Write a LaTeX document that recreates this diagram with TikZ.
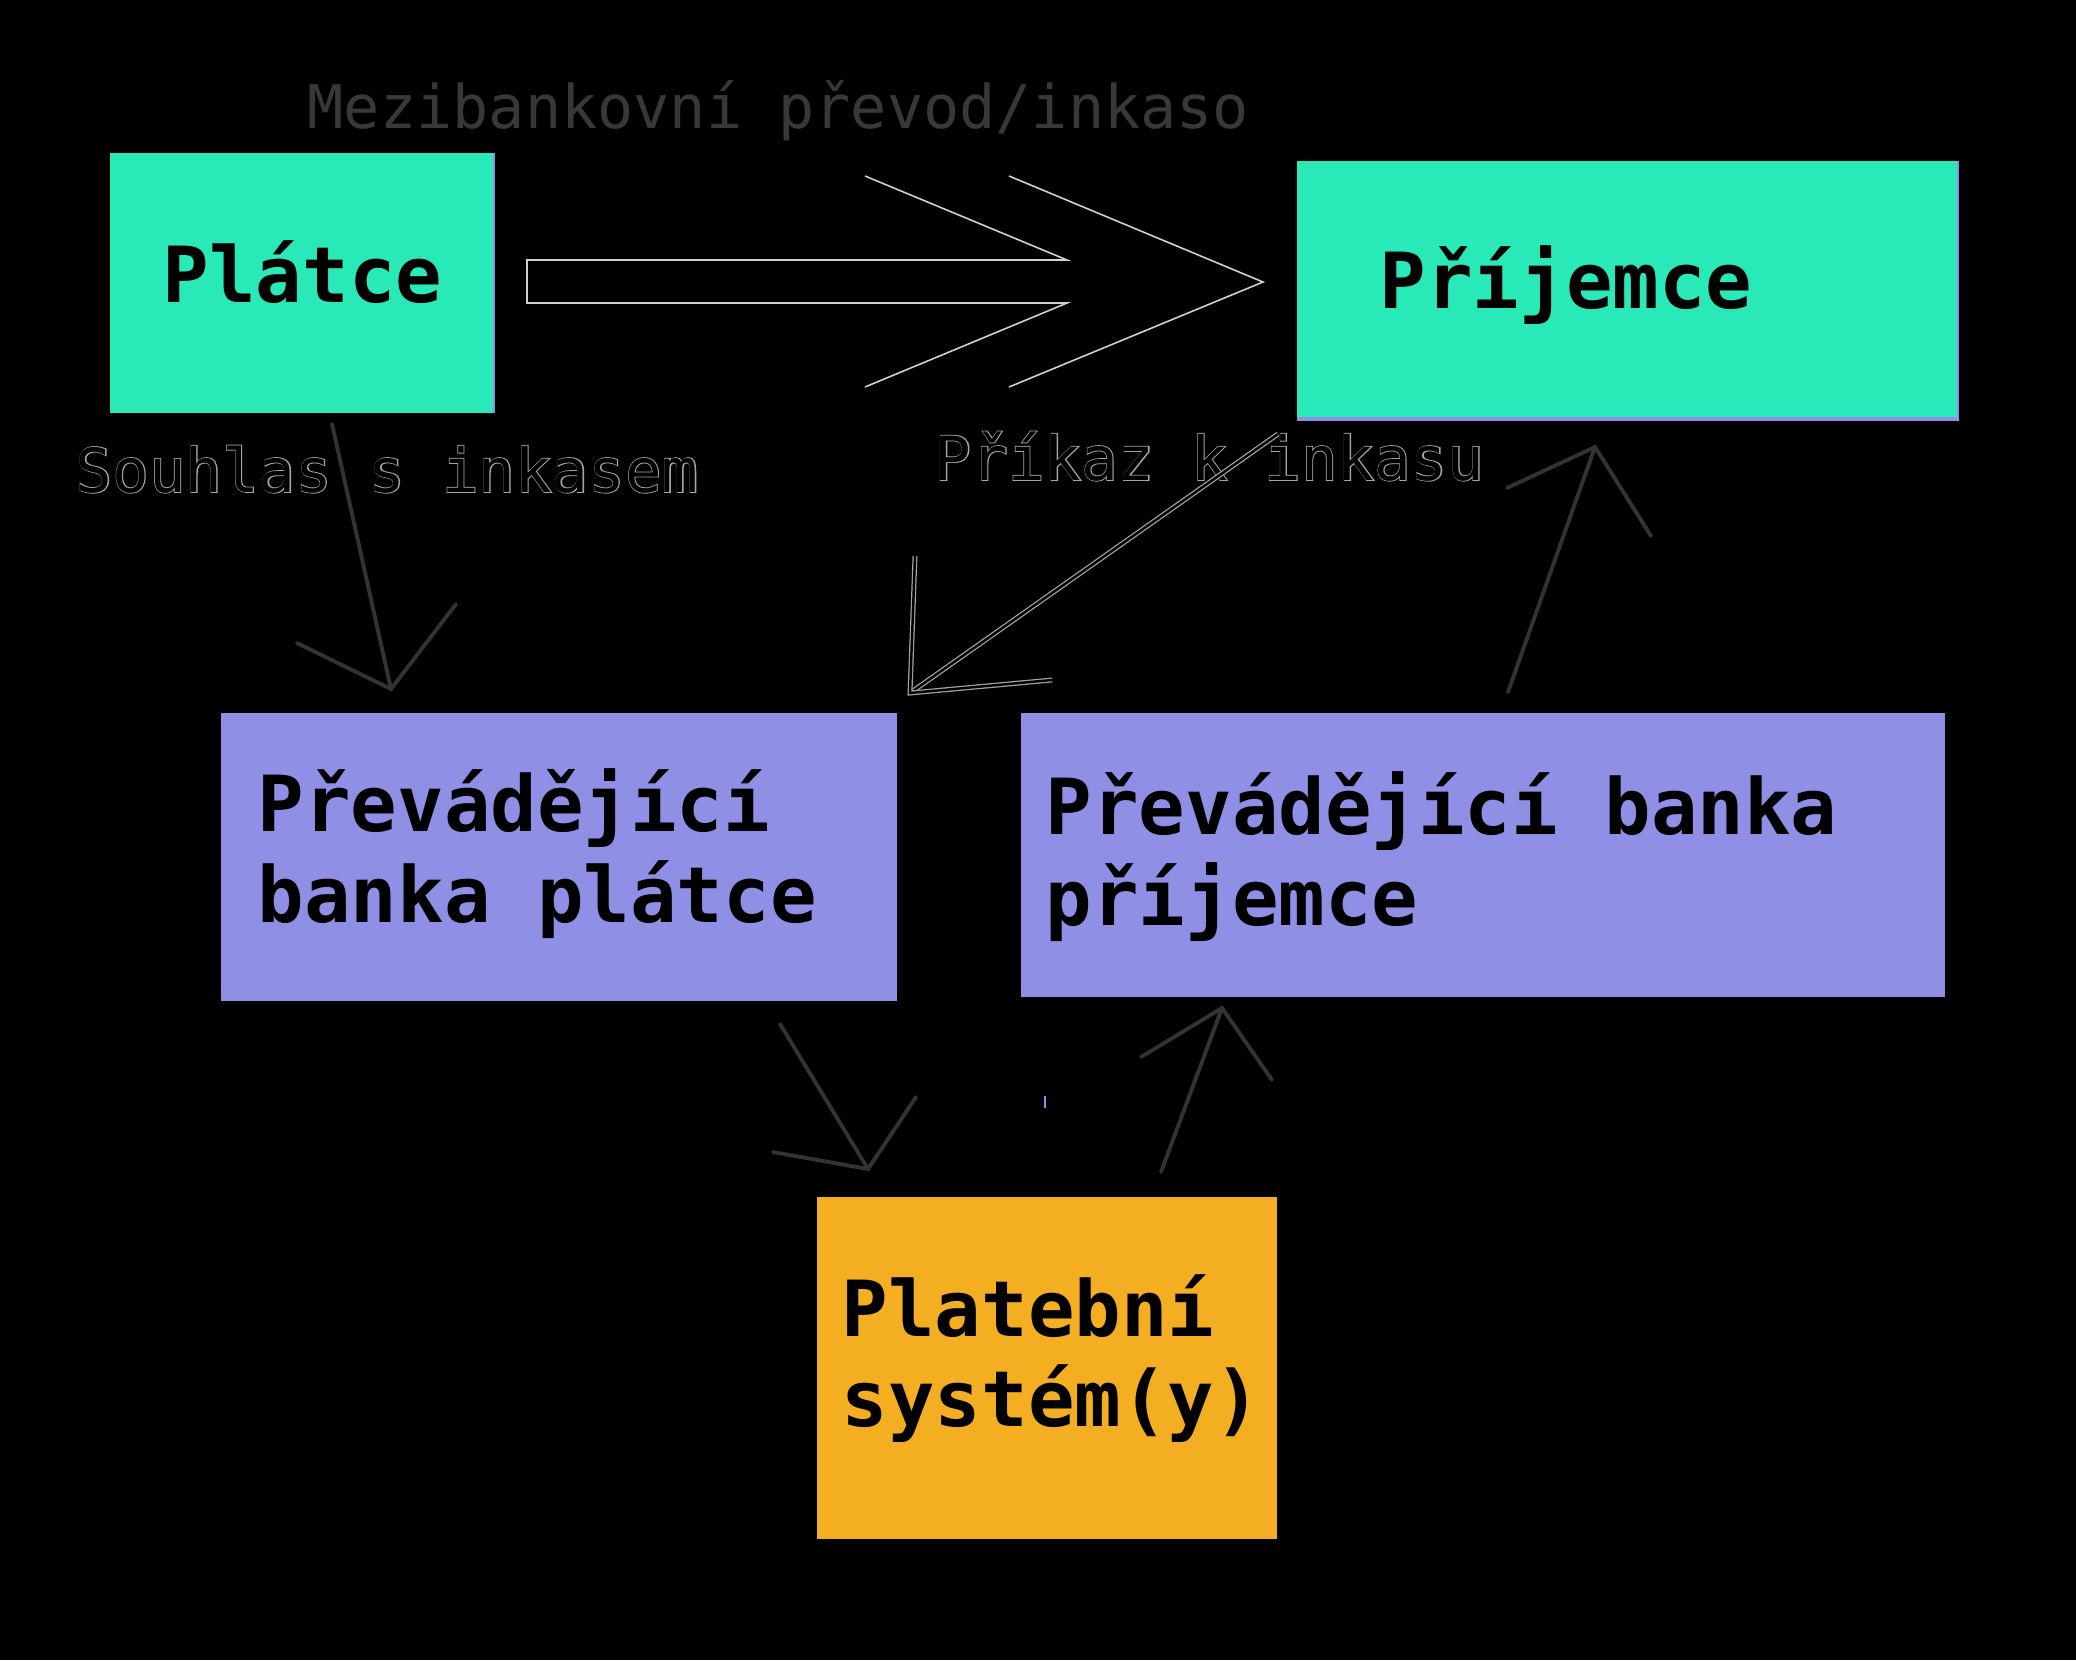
\documentclass[tikz,border=0pt]{standalone}
\usepackage{fontspec}
\setmonofont{DejaVu Sans Mono}
\newfontfamily\rimfont{DejaVu Sans Mono}[FakeBold=2.6]
\definecolor{mint}{RGB}{42,233,185}
\definecolor{lilac}{RGB}{142,143,229}
\definecolor{amber}{RGB}{243,174,34}
\definecolor{ink}{RGB}{51,51,51}
\definecolor{rim}{RGB}{165,165,165}
\newcommand\outl[1]{\rlap{\rimfont\color{rim}#1}{\color{black}#1}}
\tikzset{
  box/.style={inner sep=0pt,anchor=north west},
  boxtext/.style={inner sep=0pt,anchor=base west,align=left,
    font=\ttfamily\bfseries\fontsize{22pt}{25.6pt}\selectfont},
  lbl/.style={inner sep=0pt,anchor=base west,
    font=\ttfamily\fontsize{17.3pt}{20pt}\selectfont},
  flow/.style={ink,line width=1.1pt,line cap=round},
  hollow/.style={draw=rim,line width=.35pt,double=black,double distance=.7pt},
}
\begin{document}
\begin{tikzpicture}[x=.01cm,y=-.01cm,line width=.45pt]
  \fill[black] (0,0) rectangle (2076,1660);
  \useasboundingbox (0,0) rectangle (2076,1660);
  % boxes
  \node[box,fill=lilac,minimum width=3.85cm,minimum height=2.6cm] (platceedge) at (109,152) {};
  \node[box,fill=mint,minimum width=3.83cm,minimum height=2.6cm] (platce) at (109,152) {};
  \node[box,fill=lilac,minimum width=6.62cm,minimum height=2.6cm] (prijemceedge) at (1296,160) {};
  \node[box,fill=mint,minimum width=6.6cm,minimum height=2.56cm] (prijemce) at (1296,160) {};
  \node[box,fill=lilac,minimum width=6.76cm,minimum height=2.88cm] (bankaA) at (220,712) {};
  \node[box,fill=lilac,minimum width=9.24cm,minimum height=2.84cm] (bankaB) at (1020,712) {};
  \node[box,fill=amber,minimum width=4.6cm,minimum height=3.42cm] (system) at (816,1196) {};
  % texts (base = last line)
  \node[boxtext] (platcet) at (162,302) {Plátce};
  \node[boxtext] (prijemcet) at (1379,308) {Příjemce};
  \node[boxtext] (bankaAt) at (257,922) {Převádějící\\banka plátce};
  \node[boxtext] (bankaBt) at (1045,925) {Převádějící banka\\příjemce};
  \node[boxtext] (systemt) at (841,1426) {Platební\\systém(y)};
  \node[lbl,font=\ttfamily\fontsize{17.1pt}{20pt}\selectfont,text={rgb,255:red,56;green,56;blue,56}] (mezi) at (307,128) {Mezibankovní převod/inkaso};
  \node[lbl] (souhlas) at (75,492) {\outl{Souhlas s inkasem}};
  \node[lbl] (prikaz) at (934,480) {\outl{Příkaz k inkasu}};
  % big hollow arrow
  \draw[white!82!black] (865,176)--(1067,260)--(527,260)--(527,303)--(1067,303)--(865,387);
  \draw[white!82!black] (1009,176)--(1263,282)--(1009,387);
  % arrow ends
  \coordinate (s1) at (332,424);
  \coordinate (t1) at (391,689);
  \coordinate (l1) at (297,643);
  \coordinate (r1) at (456,604);
  \coordinate (s2) at (1278,434);
  \coordinate (t2) at (910,693);
  \coordinate (l2) at (915,556);
  \coordinate (r2) at (1052,680);
  \coordinate (s3) at (1508,692);
  \coordinate (t3) at (1595,447);
  \coordinate (l3) at (1507,488);
  \coordinate (r3) at (1651,536);
  \coordinate (s4) at (780,1024);
  \coordinate (t4) at (868,1169);
  \coordinate (l4) at (773,1152);
  \coordinate (r4) at (916,1097);
  \coordinate (s5) at (1161,1172);
  \coordinate (t5) at (1222,1008);
  \coordinate (l5) at (1141,1057);
  \coordinate (r5) at (1272,1080);
  \draw[flow] (s1)--(t1);
  \draw[flow] (l1)--(t1)--(r1);
  \draw[hollow] (s2)--(t2);
  \draw[hollow] (l2)--(t2)--(r2);
  \draw[flow] (s3)--(t3);
  \draw[flow] (l3)--(t3)--(r3);
  \draw[flow] (s4)--(t4);
  \draw[flow] (l4)--(t4)--(r4);
  \draw[flow] (s5)--(t5);
  \draw[flow] (l5)--(t5)--(r5);
  \draw[lilac,line width=.3pt] (1045,1096)--(1045,1108);
\end{tikzpicture}
\end{document}
